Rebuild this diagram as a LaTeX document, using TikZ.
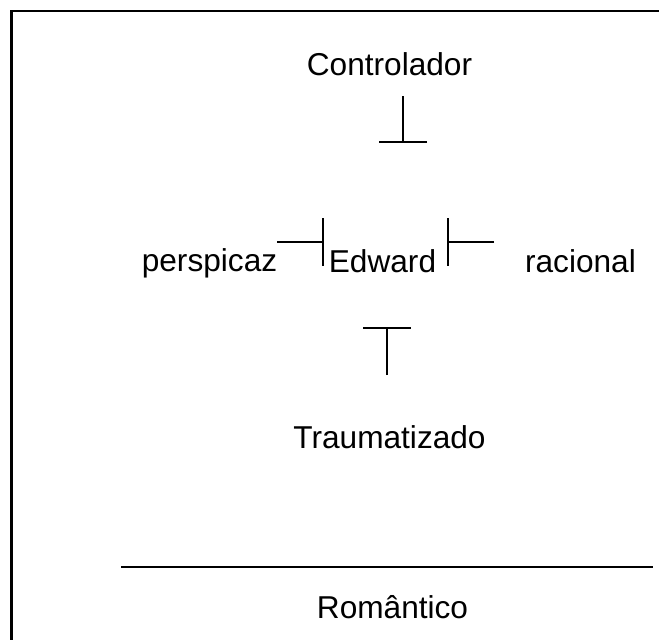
\documentclass[tikz,border=0pt]{standalone}
\usepackage{fontspec}
\setmainfont{Liberation Sans}
\usepackage{tikz}
\usetikzlibrary{arrows.meta}

\tikzset{
	word/.style={font=\fontsize{18pt}{21pt}\selectfont, inner sep=0pt, anchor=base},
	tee/.style={line width=0.034cm, -{Bar[width=0.96cm]}}
}

\begin{document}
\begin{tikzpicture}[x=0.02cm, y=-0.02cm]
				\useasboundingbox (0,0) rectangle (659,639);
				\draw[line width=0.046cm] (11.5,645) -- (11.5,11) -- (665,11);

				\node[word] (controlador) at (389.5,75) {Controlador};
				\node[word] (edward) at (382.5,272) {Edward};
				\node[word] (perspicaz) at (209.5,271) {perspicaz};
				\node[word] (racional) at (580.5,272) {racional};
				\node[word] (traumatizado) at (389.5,448) {Traumatizado};
				\node[word] (romantico) at (392.5,618) {Romântico};

				\coordinate (c-top) at (403,96);
				\coordinate (c-bar) at (403,143);
				\coordinate (p-end) at (277,242);
				\coordinate (p-bar) at (324,242);
				\coordinate (r-end) at (494,242);
				\coordinate (r-bar) at (447,242);
				\coordinate (t-end) at (387,375);
				\coordinate (t-bar) at (387,327);

				\draw[tee] (c-top) -- (c-bar);
				\draw[tee] (p-end) -- (p-bar);
				\draw[tee] (r-end) -- (r-bar);
				\draw[tee] (t-end) -- (t-bar);

				\coordinate (rule-l) at (121,567);
				\coordinate (rule-r) at (653,567);
				\draw[line width=0.04cm] (rule-l) -- (rule-r);
			\end{tikzpicture}
\end{document}
